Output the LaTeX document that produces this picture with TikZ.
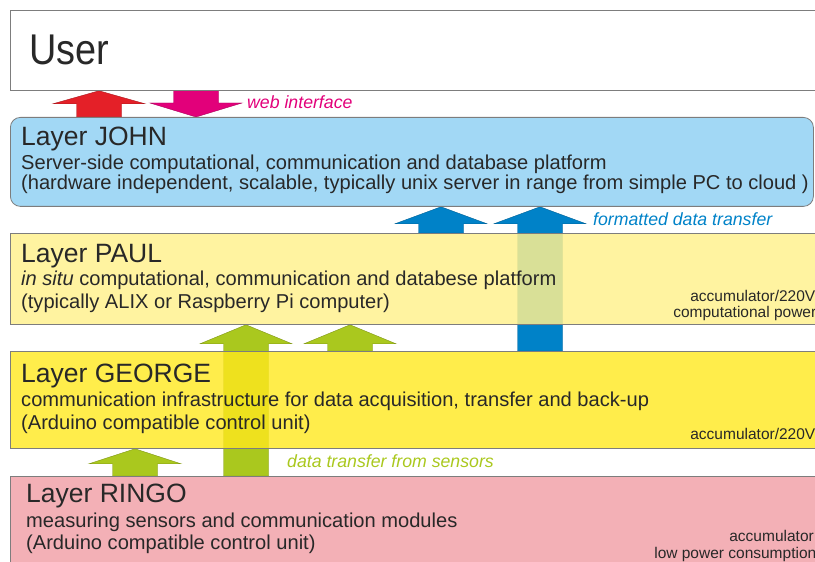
\documentclass[tikz,border=0pt]{standalone}
\usepackage{fontspec}
\setmainfont{Liberation Sans}
\usetikzlibrary{calc,positioning,backgrounds}

\definecolor{johnblue}{RGB}{162,216,245}
\definecolor{paulyellow}{RGB}{255,241,143}
\definecolor{georgeyellow}{RGB}{255,232,30}
\definecolor{ringopink}{RGB}{243,176,182}
\definecolor{darktext}{RGB}{40,40,40}
\definecolor{boxline}{RGB}{125,125,125}
\definecolor{webred}{RGB}{228,32,40}
\definecolor{webmagenta}{RGB}{226,0,122}
\definecolor{datablue}{RGB}{0,130,200}
\definecolor{sensorgreen}{RGB}{170,200,30}

% block arrow: colour, x of its axis, tail anchor, tip anchor, head depth
\newcommand{\blockarrow}[5]{%
  \draw[blockarr=#1] let \p1=(#3), \p2=(#4), \n1={\y2-#5*sign(\y2-\y1)} in
    ({#2-22.5},\y1) -- ({#2-22.5},\n1) -- ({#2-46},\n1) -- (#2,\y2)
    -- ({#2+46},\n1) -- ({#2+22.5},\n1) -- ({#2+22.5},\y1) -- cycle;}

\begin{document}
\begin{tikzpicture}[x=1pt,y=1pt,
  layerbox/.style={draw=boxline, line width=0.8pt, anchor=north west, inner sep=0pt},
  titletext/.style={anchor=base west, inner sep=0pt, text=darktext, font=\fontsize{26.5}{30}\selectfont},
  desctext/.style={anchor=base west, inner sep=0pt, text=darktext, font=\fontsize{20.1}{23}\selectfont},
  powertext/.style={anchor=base east, inner sep=0pt, text=darktext, font=\fontsize{15.5}{18}\selectfont},
  flowtext/.style={anchor=base west, inner sep=0pt, font=\itshape\fontsize{17.7}{20}\selectfont},
  blockarr/.style={fill=#1, draw=#1!75!black, line width=0.4pt}]

\clip (0,0) rectangle (815,562);

% User
\node[layerbox, fill=white, minimum width=830pt, minimum height=80pt] (user) at (10,552) {};
\node[anchor=base west, inner sep=0pt, text=darktext, font=\fontsize{43}{48}\selectfont]
  (usertext) at ($(user.north west)+(19,-55)$) {\scalebox{0.88}[1]{User}};

% Layer JOHN
\node[layerbox, fill=johnblue, rounded corners=10pt, minimum width=803pt, minimum height=89pt] (john) at (10,445) {};
\node[titletext] (johntitle) at ($(john.north west)+(11,-29)$) {Layer JOHN};
\node[desctext, below=24pt of johntitle.base west, anchor=base west] (johnline1)
  {Server-side computational, communication and database platform};
\node[desctext, below=20pt of johnline1.base west, anchor=base west] (johnline2)
  {(hardware independent, scalable, typically unix server in range from simple PC to cloud )};

% Layer PAUL
\node[layerbox, fill=paulyellow, fill opacity=0.85, minimum width=830pt, minimum height=91pt] (paul) at (10,329) {};
\node[titletext] (paultitle) at ($(paul.north west)+(11,-30)$) {Layer PAUL};
\node[desctext, below=23pt of paultitle.base west, anchor=base west] (paulline1)
  {\textit{in situ} computational, communication and databese platform};
\node[desctext, below=23pt of paulline1.base west, anchor=base west] (paulline2)
  {(typically ALIX or Raspberry Pi computer)};
\node[powertext] (paulpower1) at ($(paul.north west)+(805.5,-69)$) {accumulator/220V};
\node[powertext] (paulpower2) at ($(paul.north west)+(806.5,-85)$) {computational power};

% Layer GEORGE
\node[layerbox, fill=georgeyellow, fill opacity=0.8, minimum width=830pt, minimum height=97pt] (george) at (10,211) {};
\node[titletext] (georgetitle) at ($(george.north west)+(11,-32)$) {Layer GEORGE};
\node[desctext, below=24pt of georgetitle.base west, anchor=base west] (georgeline1)
  {communication infrastructure for data acquisition, transfer and back-up};
\node[desctext, below=23pt of georgeline1.base west, anchor=base west] (georgeline2)
  {(Arduino compatible control unit)};
\node[powertext] (georgepower) at ($(george.north west)+(805.5,-89)$) {accumulator/220V};

% Layer RINGO
\node[layerbox, fill=ringopink, minimum width=830pt, minimum height=100pt] (ringo) at (10,86) {};
\node[titletext] (ringotitle) at ($(ringo.north west)+(16,-27)$) {Layer RINGO};
\node[desctext, below=25pt of ringotitle.base west, anchor=base west] (ringoline1)
  {measuring sensors and communication modules};
\node[desctext, below=22pt of ringoline1.base west, anchor=base west] (ringoline2)
  {(Arduino compatible control unit)};
\node[powertext] (ringopower1) at ($(ringo.north west)+(804,-66)$) {accumulator};
\node[powertext] (ringopower2) at ($(ringo.north west)+(806.5,-83)$) {low power consumption};

% flow labels
\node[flowtext, text=webmagenta] (weblabel) at ($(user.south west)+(237,-18)$) {web interface};
\node[flowtext, text=datablue] (datalabel) at ($(john.south west)+(583,-19)$) {formatted data transfer};
\node[flowtext, text=sensorgreen] (sensorlabel) at ($(george.south west)+(277,-19)$) {data transfer from sensors};

% arrows, behind the layers
\begin{scope}[on background layer]
\blockarrow{webred}{99}{john.north}{user.south}{13}
\blockarrow{webmagenta}{196}{user.south}{john.north}{14}
\blockarrow{datablue}{441}{paul.north}{john.south}{17}
\blockarrow{datablue}{540}{george.north}{john.south}{17}
\blockarrow{sensorgreen}{246}{ringo.north}{paul.south}{19}
\blockarrow{sensorgreen}{350}{george.north}{paul.south}{19}
\blockarrow{sensorgreen}{135}{ringo.north}{george.south}{15}
\end{scope}

\end{tikzpicture}
\end{document}
